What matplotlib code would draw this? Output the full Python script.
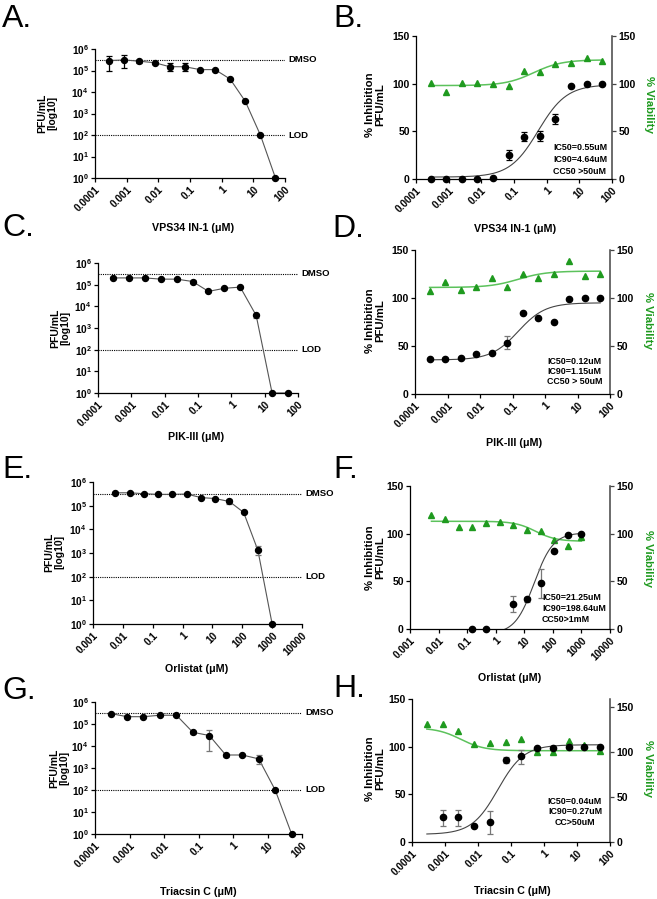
import numpy as np
import matplotlib
matplotlib.use("Agg")
import matplotlib.pyplot as plt
import matplotlib.transforms as mtransforms
from matplotlib.ticker import FixedLocator, NullLocator

plt.rcParams['font.family'] = ['Liberation Sans', 'DejaVu Sans']
plt.rcParams['mathtext.fontset'] = 'custom'
plt.rcParams['mathtext.rm'] = 'Liberation Sans:bold'
plt.rcParams['mathtext.bf'] = 'Liberation Sans:bold'
plt.rcParams['mathtext.it'] = 'Liberation Sans:bold'

# ---- data -------------------------------------------------------------
conc_um = [0.000282, 0.000847, 0.00254, 0.00762, 0.0229, 0.0686,
           0.206, 0.617, 1.85, 5.56, 16.7, 50]
conc_orl = [0.00565, 0.0169, 0.0508, 0.152, 0.457, 1.37,
            4.12, 12.3, 37.0, 111, 333, 1000]

dmso_pfu = 3.2e5
lod_pfu = 100

# A: VPS34 IN-1 titer
pfu_a = [2.9e5, 3.1e5, 2.7e5, 2.3e5, 1.5e5, 1.5e5, 1.1e5, 1.1e5, 4.0e4, 3.7e3, 100, 1]
lo_a = [1.0e5, 1.3e5, 2.2e5, np.nan, 9e4, 9e4, np.nan, np.nan, np.nan, np.nan, np.nan, np.nan]
hi_a = [4.6e5, 5.5e5, 3.2e5, np.nan, 2.2e5, 2.2e5, np.nan, np.nan, np.nan, np.nan, np.nan, np.nan]

# B: VPS34 IN-1 inhibition / viability
inh_b = [0, 0, 0, 0, 1.5, 25, 44, 45, 63, 97.5, 100, 100]
lo_b = [np.nan] * 5 + [20, 40, 40, 58] + [np.nan] * 3
hi_b = [np.nan] * 5 + [30, 49, 50, 68] + [np.nan] * 3
via_b = [101, 91.5, 101, 101, 100, 97.5, 113, 112, 121, 122, 127, 124]

# C: PIK-III titer
pfu_c = [2.05e5, 2.05e5, 2.05e5, 1.8e5, 1.8e5, 1.4e5, 4.9e4, 6.8e4, 7.7e4, 3.8e3, 1, 1]
lo_c = [np.nan] * 5 + [1.2e5] + [np.nan] * 3 + [3.0e3, np.nan, np.nan]
hi_c = [np.nan] * 5 + [1.6e5] + [np.nan] * 3 + [4.6e3, np.nan, np.nan]

# D: PIK-III inhibition / viability
inh_d = [36, 36, 37.5, 41.5, 43, 53, 84.5, 79, 74.5, 99, 100, 100]
lo_d = [np.nan] * 5 + [47] + [np.nan] * 6
hi_d = [np.nan] * 5 + [60] + [np.nan] * 6
via_d = [107.5, 117, 108, 111, 120.5, 111.5, 125.5, 121, 124.5, 138.5, 123, 125.5]

# E: Orlistat titer
pfu_e = [3.5e5, 3.5e5, 3.2e5, 3.0e5, 3.0e5, 3.1e5, 2.2e5, 2.0e5, 1.5e5, 5.2e4, 1.3e3, 1]
lo_e = [np.nan] * 8 + [1.2e5, np.nan, 8e2, np.nan]
hi_e = [np.nan] * 8 + [1.9e5, np.nan, 2e3, np.nan]

# F: Orlistat inhibition / viability
conc_f_inh = [0.152, 0.457, 4.12, 12.3, 37.0, 111, 333, 1000]
inh_f = [0, 0, 26.5, 31, 48.5, 82, 99, 100]
lo_f = [np.nan, np.nan, 18, 28, 33, np.nan, np.nan, np.nan]
hi_f = [np.nan, np.nan, 35, 34, 63, np.nan, np.nan, np.nan]
via_f = [119.5, 115, 106.5, 107, 111, 112.5, 109.5, 104, 103, 93, 87, 96.5]

# G: Triacsin C titer
pfu_g = [3.0e5, 2.15e5, 2.15e5, 2.5e5, 2.5e5, 4.2e4, 3.0e4, 3.9e3, 3.9e3, 2.6e3, 100, 1]
lo_g = [np.nan] * 5 + [3.5e4, 6e3, 3.2e3, np.nan, 1.5e3, np.nan, np.nan]
hi_g = [np.nan] * 5 + [5.0e4, 5.5e4, 4.5e3, np.nan, 4.0e3, np.nan, np.nan]

# H: Triacsin C inhibition / viability
conc_h_inh = conc_um[1:]
inh_h = [26, 26, 17, 21, 86, 90, 98.5, 98.5, 99.5, 100, 100]
lo_h = [17, 17, np.nan, 8, 83, 82, np.nan, np.nan, np.nan, np.nan, np.nan]
hi_h = [34, 34, np.nan, 32, 89, 97, np.nan, np.nan, np.nan, np.nan, np.nan]
via_h = [131.5, 131.5, 123, 108.5, 110, 111.5, 115, 99.6, 100, 112, 107.5, 101.5]

# fitted curves: (left asymptote, right asymptote, ec50, hill)
fit_b_inh = (2, 99, 0.55, 1.0)
fit_b_via = (98, 125, 0.4, 1.0)
fit_d_inh = (35.5, 95, 0.15, 1.05)
fit_d_via = (111, 128, 0.15, 1.0)
fit_f_inh = (-5, 101, 22, 1.3)
fit_f_via = (113, 92, 25, 1.2)
fit_h_inh = (8, 102, 0.04, 1.1)
fit_h_via = (127, 101.5, 0.003, 1.2)

ticks_um = [0.0001, 0.001, 0.01, 0.1, 1, 10, 100]
labels_um = ['0.0001', '0.001', '0.01', '0.1', '1', '10', '100']
ticks_orl = [0.001, 0.01, 0.1, 1, 10, 100, 1000, 10000]
labels_orl = ['0.001', '0.01', '0.1', '1', '10', '100', '1000', '10000']

# ---- layout helpers ---------------------------------------------------
W, H = 657, 899
fig = plt.figure(figsize=(6.57, 8.99), dpi=100)

GREEN = '#1f9a1f'
GREEN_LINE = '#5cc25c'
TICK_FS = 7.3


def box(l, r, t, b):
    return [l / W, 1 - b / H, (r - l) / W, (b - t) / H]


def ftext(x, y, s, **kw):
    fig.text(x / W, 1 - y / H, s, **kw)


def logistic(p, x):
    left, right, ec50, h = p
    return right + (left - right) / (1 + (x / ec50) ** h)


def style_x(ax, ticks, labels, xlim):
    ax.set_xscale('log')
    ax.set_xlim(xlim)
    ax.xaxis.set_major_locator(FixedLocator(ticks))
    ax.xaxis.set_minor_locator(NullLocator())
    ax.set_xticklabels(labels, rotation=45, ha='right', va='top',
                       rotation_mode='anchor', fontweight='bold', fontsize=TICK_FS)
    ax.tick_params(axis='x', direction='out', length=3, width=0.9, pad=1.5)


def err(ax, x, y, lo, hi, color, lw=0.9):
    x = np.array(x); y = np.array(y); lo = np.array(lo); hi = np.array(hi)
    m = ~np.isnan(lo)
    ax.errorbar(x[m], y[m], yerr=[y[m] - lo[m], hi[m] - y[m]], fmt='none',
                ecolor=color, elinewidth=lw, capsize=2.3, capthick=lw,
                zorder=3, clip_on=False)


def titer_panel(px, pfu, lo, hi, conc, ticks, labels, xlim, ecol):
    ax = fig.add_axes(box(*px))
    style_x(ax, ticks, labels, xlim)
    ax.set_yscale('log')
    ax.set_ylim(1, 1e6)
    ax.yaxis.set_major_locator(FixedLocator([10.0 ** k for k in range(7)]))
    ax.yaxis.set_minor_locator(NullLocator())
    ax.set_yticklabels([r'$\mathbf{10^{%d}}$' % k for k in range(7)], fontsize=TICK_FS)
    ax.tick_params(axis='y', direction='out', length=3, width=0.9, pad=1.5)
    for s in ['top', 'right']:
        ax.spines[s].set_visible(False)
    for s in ['left', 'bottom']:
        ax.spines[s].set_linewidth(0.9)
    ax.axhline(dmso_pfu, color='k', lw=0.8, ls=(0, (1, 1)), zorder=1)
    ax.axhline(lod_pfu, color='k', lw=0.8, ls=(0, (1, 1)), zorder=1)
    tr = mtransforms.blended_transform_factory(ax.transAxes, ax.transData)
    off = mtransforms.ScaledTranslation(3 / 100, 0, fig.dpi_scale_trans)
    ax.text(1, dmso_pfu, 'DMSO', transform=tr + off, va='center', ha='left',
            fontsize=6.8, fontweight='bold')
    ax.text(1, lod_pfu, 'LOD', transform=tr + off, va='center', ha='left',
            fontsize=6.8, fontweight='bold')
    ax.plot(conc, pfu, '-', color='#555555', lw=0.8, zorder=2)
    err(ax, conc, pfu, lo, hi, ecol)
    ax.plot(conc, pfu, 'o', color='k', ms=4.3, zorder=4, clip_on=False)
    return ax


def dose_panel(px, conc_i, inh, lo, hi, conc_v, via, fi, fv, ticks, labels,
               xlim, grid_i, grid_v, ecol, rtop=150):
    ax = fig.add_axes(box(*px))
    ax2 = ax.twinx()
    ax.set_zorder(ax2.get_zorder() + 1)
    ax.patch.set_visible(False)
    style_x(ax, ticks, labels, xlim)
    ax.set_ylim(0, 150)
    ax2.set_ylim(0, rtop)
    for a in (ax, ax2):
        a.yaxis.set_major_locator(FixedLocator([0, 50, 100, 150]))
        a.tick_params(axis='y', direction='out', length=3, width=0.9, pad=1.5,
                      labelsize=7.5)
        for t in a.get_yticklabels():
            t.set_fontweight('bold')
        a.spines['top'].set_visible(False)
    ax.spines['right'].set_visible(False)
    ax2.spines['left'].set_visible(False)
    ax2.spines['bottom'].set_visible(False)
    ax2.spines['right'].set_linewidth(1.1)
    ax2.spines['right'].set_color('#444444')
    ax2.tick_params(axis='y', color='#444444')
    for s in ['left', 'bottom']:
        ax.spines[s].set_linewidth(0.9)
    gi = np.logspace(np.log10(grid_i[0]), np.log10(grid_i[1]), 300)
    gv = np.logspace(np.log10(grid_v[0]), np.log10(grid_v[1]), 300)
    ax2.plot(gv, logistic(fv, gv), color=GREEN_LINE, lw=1.1, zorder=2)
    ax2.plot(conc_v, via, '^', color=GREEN, ms=4, zorder=3, clip_on=False)
    ax.plot(gi, logistic(fi, gi), color='#444444', lw=0.8, zorder=2)
    err(ax, conc_i, inh, lo, hi, ecol)
    ax.plot(conc_i, inh, 'o', color='k', ms=4.5, zorder=4, clip_on=False)
    return ax, ax2


def ylab_titer(x, y):
    ftext(x, y, 'PFU/mL\n[log10]', rotation=90, ha='center', va='center',
          fontsize=7.5, fontweight='bold', multialignment='center', linespacing=1.0)


def ylab_dose(xl, xr, y):
    ftext(xl, y, '% Inhibition\nPFU/mL', rotation=90, ha='center', va='center',
          fontsize=8.2, fontweight='bold', multialignment='center', linespacing=1.0)
    ftext(xr, y, '% Viability', rotation=270, ha='center', va='center',
          fontsize=8.2, fontweight='bold', color=GREEN)


def letter(x, y, s):
    ftext(x, y, s, fontsize=23, ha='left', va='top')


def xlab(x, y, s):
    ftext(x, y, s, fontsize=7.7, fontweight='bold', ha='center', va='center')


def ictext(x, y, lines, ha='left', step=12):
    for i, s in enumerate(lines):
        ftext(x, y + i * step, s, fontsize=6.4, fontweight='bold', ha=ha, va='center')


# ---- panels -------------------------------------------------------------
titer_panel((95, 285, 49, 178), pfu_a, lo_a, hi_a, conc_um, ticks_um, labels_um,
            (1e-4, 100), 'k')
dose_panel((416, 612, 36, 179), conc_um, inh_b, lo_b, hi_b, conc_um, via_b,
           fit_b_inh, fit_b_via, ticks_um, labels_um, (1e-4, 100),
           (conc_um[0], 50), (conc_um[0], 50), 'k')
titer_panel((98, 298, 263, 393), pfu_c, lo_c, hi_c, conc_um, ticks_um, labels_um,
            (1e-4, 100), '#777777')
dose_panel((415, 610, 250, 394), conc_um, inh_d, lo_d, hi_d, conc_um, via_d,
           fit_d_inh, fit_d_via, ticks_um, labels_um, (1e-4, 100),
           (conc_um[0], 50), (conc_um[0], 50), '#777777')
titer_panel((93, 302, 482, 624), pfu_e, lo_e, hi_e, conc_orl, ticks_orl, labels_orl,
            (1e-3, 1e4), '#777777')
dose_panel((410, 610, 486, 629), conc_f_inh, inh_f, lo_f, hi_f, conc_orl, via_f,
           fit_f_inh, fit_f_via, ticks_orl, labels_orl, (1e-3, 1e4),
           (conc_f_inh[0], 1000), (conc_orl[0], 1000), '#777777')
titer_panel((95, 302, 702, 834), pfu_g, lo_g, hi_g, conc_um, ticks_um, labels_um,
            (1e-4, 100), '#777777')
dose_panel((412, 610, 699, 842), conc_h_inh, inh_h, lo_h, hi_h, conc_um, via_h,
           fit_h_inh, fit_h_via, ticks_um, labels_um, (1e-4, 100),
           (conc_um[0], 50), (conc_um[0], 50), '#777777', rtop=159)

# ---- labels -------------------------------------------------------------
ylab_titer(47, 113)
ylab_titer(60, 328)
ylab_titer(54, 552)
ylab_titer(59, 768)
ylab_dose(375, 649, 105)
ylab_dose(375, 648, 321)
ylab_dose(375, 648, 558)
ylab_dose(375, 648, 769)

xlab(193, 228, 'VPS34 IN-1 (μM)')
xlab(515, 229, 'VPS34 IN-1 (μM)')
xlab(196, 437, 'PIK-III (μM)')
xlab(514, 443, 'PIK-III (μM)')
xlab(197, 669, 'Orlistat (μM)')
xlab(510, 678, 'Orlistat (μM)')
xlab(198, 892, 'Triacsin C (μM)')
xlab(512, 891, 'Triacsin C (μM)')

letter(2, 4, 'A.')
letter(333, 4, 'B.')
letter(2, 213, 'C.')
letter(332, 214, 'D.')
letter(2, 455, 'E.')
letter(333, 455, 'F.')
letter(2, 676, 'G.')
letter(333, 674, 'H.')

ictext(553, 147, ['IC50=0.55uM', 'IC90=4.64uM', 'CC50 >50uM'])
ictext(547, 362, ['IC50=0.12uM', 'IC90=1.15uM', 'CC50 > 50uM'], step=10)
ictext(542, 597, ['IC50=21.25uM', 'IC90=198.64uM', 'CC50>1mM'], step=11.5)
ictext(575, 801, ['IC50=0.04uM', 'IC90=0.27uM', 'CC>50uM'], ha='center', step=10.7)

fig.savefig('out.png', dpi=100)
